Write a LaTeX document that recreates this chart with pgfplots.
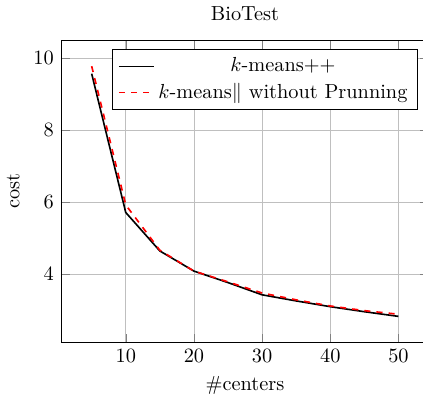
\documentclass[border=0pt]{standalone}
\usepackage{pgfplots}
\pgfplotsset{compat=1.18}
\begin{document}
\begin{tikzpicture}
\begin{axis}[
  scale only axis,
  width=181pt, height=148.5pt,
  title={BioTest},
  xlabel={\#centers}, ylabel={cost},
  xmin=0.5, xmax=54.5, ymin=2.1, ymax=10.5,
  xtick={10,20,30,40,50}, ytick={4,6,8,10},
  grid=major,
  legend pos=north east,
  legend cell align=center,
]
\addplot[black, thick, no markers] coordinates {
(5,9.57) (10,5.71) (15,4.64) (20,4.08) (25,3.76) (30,3.42) (35,3.25) (40,3.09) (45,2.95) (50,2.82)};
\addlegendentry{$k$-means++}
\addplot[red, thick, dashed, no markers] coordinates {
(5,9.78) (10,5.92) (15,4.66) (20,4.08) (25,3.78) (30,3.47) (35,3.28) (40,3.11) (45,2.98) (50,2.88)};
\addlegendentry{$k$-means$\|$ without Prunning}
\end{axis}
\coordinate (bl) at (current bounding box.south west);
\coordinate (tr) at (current bounding box.north east);
\pgfresetboundingbox
\useasboundingbox (bl) rectangle ([xshift=-3pt]current axis.east |- tr);
\end{tikzpicture}
\end{document}
